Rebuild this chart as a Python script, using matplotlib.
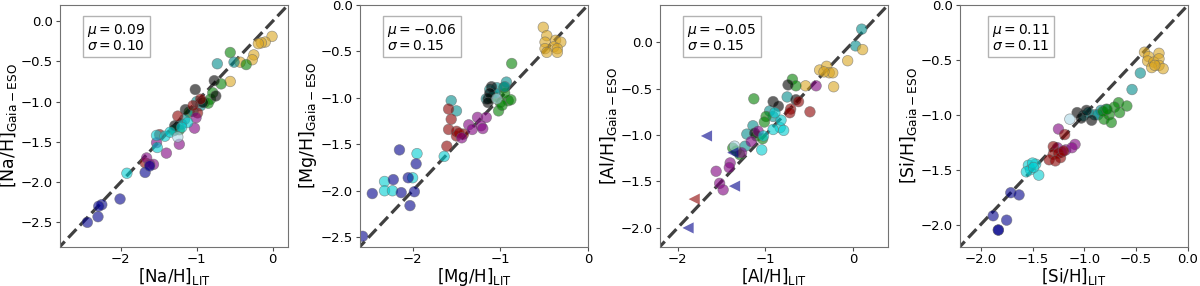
import matplotlib
matplotlib.use("Agg")
import matplotlib.pyplot as plt

# cluster -> colour
colors = {"g1": "goldenrod", "g2": "green", "g3": "darkcyan", "g4": "black",
          "g5": "darkred", "g6": "purple", "g7": "darkturquoise", "g8": "darkblue",
          "g9": "lightblue"}

# ---- [Na/H] ----
na_lit = [-0.01, -0.10, -0.15, -0.19, -0.25, -0.27, -0.43, -0.56,
          -0.56, -0.35, -0.68, -0.82, -0.79, -0.90, -0.85, -1.23, -1.10, -1.30,
          -0.73, -0.51, -0.95, -1.05, -1.16, -1.29, -1.20, -1.00,
          -1.02, -0.77, -0.75, -0.92, -1.29, -1.15,
          -1.25, -0.95, -0.99, -1.49, -1.68, -1.05,
          -1.01, -1.03, -1.23, -1.40, -1.53, -1.66, -1.57, -1.62,
          -1.53, -1.42, -1.52, -1.92, -1.12, -1.20, -1.35,
          -1.68, -1.62, -2.01, -2.25, -2.29, -2.30, -2.44,
          -1.25]
na_ges = [-0.19, -0.26, -0.27, -0.28, -0.42, -0.48, -0.51, -0.75,
          -0.39, -0.54, -0.78, -0.97, -0.89, -1.01, -1.02, -1.35, -1.13, -1.36,
          -0.53, -0.51, -1.05, -1.12, -1.22, -1.35, -1.28, -1.00,
          -0.85, -0.74, -0.93, -1.01, -1.30, -1.10,
          -1.18, -0.97, -1.14, -1.41, -1.76, -1.05,
          -1.20, -1.33, -1.53, -1.64, -1.51, -1.70, -1.78, -1.78,
          -1.42, -1.43, -1.57, -1.89, -1.26, -1.32, -1.38,
          -1.88, -1.80, -2.21, -2.28, -2.30, -2.43, -2.50,
          -1.44]
na_grp = (["g1"] * 8 + ["g2"] * 10 + ["g3"] * 8 + ["g4"] * 6 + ["g5"] * 6
          + ["g6"] * 8 + ["g7"] * 7 + ["g8"] * 7 + ["g9"])

# ---- [Mg/H] ----
mg_lit = [-0.51, -0.47, -0.49, -0.37, -0.31, -0.49, -0.39, -0.35, -0.47, -0.35,
          -0.87, -0.96, -0.91, -1.02, -1.08, -0.88, -0.95, -1.00, -1.10, -0.98,
          -0.93, -1.04, -1.12, -1.16, -1.50, -1.56, -0.95, -1.06,
          -1.10, -1.14, -1.12, -1.14,
          -1.59, -1.56, -1.59, -1.50, -1.50, -1.42, -1.61, -1.47,
          -1.36, -1.26, -1.16, -1.32, -1.22, -1.44, -1.20,
          -1.95, -2.32, -2.32, -2.23, -1.64, -2.00,
          -2.15, -1.96, -2.05, -2.22, -2.46, -2.13, -1.98, -2.03, -2.57,
          -1.04]
mg_ges = [-0.24, -0.33, -0.40, -0.38, -0.40, -0.47, -0.45, -0.47, -0.51, -0.51,
          -0.63, -0.89, -1.03, -1.14, -0.98, -1.02, -0.95, -1.05, -1.00, -1.08,
          -0.83, -0.89, -0.91, -1.01, -1.14, -1.03, -0.88, -0.95,
          -0.88, -1.01, -0.95, -1.05,
          -1.12, -1.23, -1.34, -1.36, -1.41, -1.39, -1.52, -1.38,
          -1.29, -1.21, -1.21, -1.34, -1.30, -1.43, -1.33,
          -1.60, -1.90, -2.00, -2.00, -1.63, -1.86,
          -1.56, -1.71, -1.86, -1.88, -2.03, -2.02, -2.01, -2.16, -2.49,
          -1.01]
mg_grp = (["g1"] * 10 + ["g2"] * 10 + ["g3"] * 8 + ["g4"] * 4 + ["g5"] * 8
          + ["g6"] * 7 + ["g7"] * 6 + ["g8"] * 9 + ["g9"])

# ---- [Al/H] ----
al_lit = [0.10, 0.03, -0.75, -0.95, -0.91, -1.14, -1.21, -1.23,
          0.11, -0.06, -0.38, -0.30, -0.27, -0.23, -0.33, -0.22, -0.54,
          -0.69, -0.65, -1.13, -0.99, -1.01, -1.37, -1.33, -1.10, -1.29, -1.03,
          -0.74, -0.91, -0.85, -0.65, -1.12,
          -0.62, -0.71, -0.72, -0.49,
          -0.42, -1.08, -1.16, -1.27, -1.40, -1.41, -1.56, -1.52, -1.48,
          -0.83, -0.82, -0.91, -1.02, -1.04, -0.89, -0.79,
          -1.35]
al_ges = [0.14, -0.04, -0.59, -0.74, -0.80, -0.90, -0.99, -1.12,
          -0.08, -0.20, -0.30, -0.26, -0.33, -0.33, -0.32, -0.48, -0.47,
          -0.40, -0.47, -0.61, -0.80, -0.86, -1.14, -1.17, -1.01, -1.21, -1.04,
          -0.46, -0.64, -0.69, -0.62, -0.98,
          -0.64, -0.72, -0.76, -0.75,
          -0.47, -0.96, -1.07, -1.19, -1.30, -1.35, -1.39, -1.52, -1.59,
          -0.92, -0.84, -0.94, -1.01, -1.16, -0.76, -0.95,
          -1.12]
al_grp = (["g3"] * 8 + ["g1"] * 9 + ["g2"] * 10 + ["g4"] * 5 + ["g5"] * 4
          + ["g6"] * 9 + ["g7"] * 7 + ["g9"])
# upper limits (left-pointing triangles)
al_lim_lit = [-1.67, -1.37, -1.35, -1.88, -1.81]
al_lim_ges = [-1.01, -1.19, -1.55, -2.00, -1.69]
al_lim_grp = ["g8", "g8", "g8", "g8", "g5"]

# ---- [Si/H] ----
si_lit = [-0.42, -0.38, -0.39, -0.33, -0.28, -0.28, -0.28, -0.24, -0.35, -0.32,
          -0.46, -0.54, -0.79, -0.84, -0.90, -0.96, -1.01, -0.87,
          -0.67, -0.59, -0.71, -0.76, -0.81, -0.74, -0.66, -0.82, -0.78,
          -1.07, -1.03, -0.93, -0.98,
          -1.25, -1.09, -1.18, -1.26, -1.12, -1.22,
          -1.19, -1.30, -1.30, -1.25, -1.23, -1.34, -1.28, -1.20,
          -1.54, -1.52, -1.47, -1.44, -1.50, -1.56, -1.49,
          -1.71, -1.63, -1.88, -1.75, -1.83, -1.83,
          -1.14]
si_ges = [-0.43, -0.47, -0.51, -0.52, -0.44, -0.49, -0.55, -0.58, -0.57, -0.55,
          -0.62, -0.77, -0.95, -0.96, -1.00, -0.98, -1.01, -1.00,
          -0.89, -0.92, -0.93, -1.00, -1.04, -1.07, -0.98, -0.97, -0.95,
          -0.98, -1.03, -1.05, -0.96,
          -1.13, -1.27, -1.32, -1.30, -1.30, -1.34,
          -1.18, -1.29, -1.36, -1.35, -1.39, -1.41, -1.42, -1.33,
          -1.46, -1.50, -1.45, -1.55, -1.44, -1.52, -1.48,
          -1.71, -1.73, -1.92, -1.96, -2.05, -2.05,
          -1.04]
si_grp = (["g1"] * 10 + ["g3"] * 8 + ["g2"] * 9 + ["g4"] * 4 + ["g6"] * 6
          + ["g5"] * 8 + ["g7"] * 7 + ["g8"] * 6 + ["g9"])

elements = ["Na", "Mg", "Al", "Si"]
mus = ["0.09", "-0.06", "-0.05", "0.11"]
sigmas = ["0.10", "0.15", "0.15", "0.11"]
lims = [(-2.8, 0.2), (-2.6, 0.0), (-2.2, 0.4), (-2.2, 0.0)]
xticks = [[-2, -1, 0], [-2, -1, 0], [-2, -1, 0], [-2.0, -1.5, -1.0, -0.5, 0.0]]
yticks = [[-2.5, -2.0, -1.5, -1.0, -0.5, 0.0], [-2.5, -2.0, -1.5, -1.0, -0.5, 0.0],
          [-2.0, -1.5, -1.0, -0.5, 0.0], [-2.0, -1.5, -1.0, -0.5, 0.0]]
xtick_labels = [["−2", "−1", "0"], ["−2", "−1", "0"], ["−2", "−1", "0"],
                ["−2.0", "−1.5", "−1.0", "−0.5", "0.0"]]
datasets = [(na_lit, na_ges, na_grp), (mg_lit, mg_ges, mg_grp),
            (al_lit, al_ges, al_grp), (si_lit, si_ges, si_grp)]

fig = plt.figure(figsize=(12, 2.86), dpi=100)
for i in range(4):
    ax = fig.add_axes([(60 + 300 * i) / 1200, 39.5 / 286, 228 / 1200, 241.5 / 286])
    lo, hi = lims[i]
    ax.plot([lo - 1, hi + 1], [lo - 1, hi + 1], ls="--", color="0.25", lw=2.3, zorder=1)
    xs, ys, gs = datasets[i]
    ax.scatter(xs, ys, c=[colors[g] for g in gs], s=58, alpha=0.6,
               edgecolors="0.4", linewidths=0.5, zorder=2)
    if elements[i] == "Al":
        ax.scatter(al_lim_lit, al_lim_ges, c=[colors[g] for g in al_lim_grp], marker="<",
                   s=65, alpha=0.6, linewidths=0, zorder=2)
    ax.set_xlim(lo, hi)
    ax.set_ylim(lo, hi)
    ax.set_xticks(xticks[i])
    ax.set_xticklabels(xtick_labels[i])
    ax.set_yticks(yticks[i])
    ax.set_yticklabels([("%.1f" % v).replace("-", "−") for v in yticks[i]])
    ax.tick_params(labelsize=9.5, length=3, width=0.8, color="0.3", pad=2)
    for sp in ax.spines.values():
        sp.set_color("0.45")
    el = elements[i]
    ax.set_xlabel("[%s/H]$_{\\rm LIT}$" % el, fontsize=12, labelpad=-0.5)
    ax.set_ylabel("[%s/H]$_{\\rm Gaia-ESO}$" % el, fontsize=12.5, labelpad=1)
    ax.text(0.12 if i < 3 else 0.14, 0.93,
            "$\\mu = %s$\n$\\sigma = %s$" % (mus[i], sigmas[i]),
            transform=ax.transAxes, fontsize=10, va="top", ha="left", linespacing=1.0,
            bbox=dict(boxstyle="square,pad=0.3", facecolor="white", edgecolor="0.7"))

fig.savefig("out.png", dpi=100)
